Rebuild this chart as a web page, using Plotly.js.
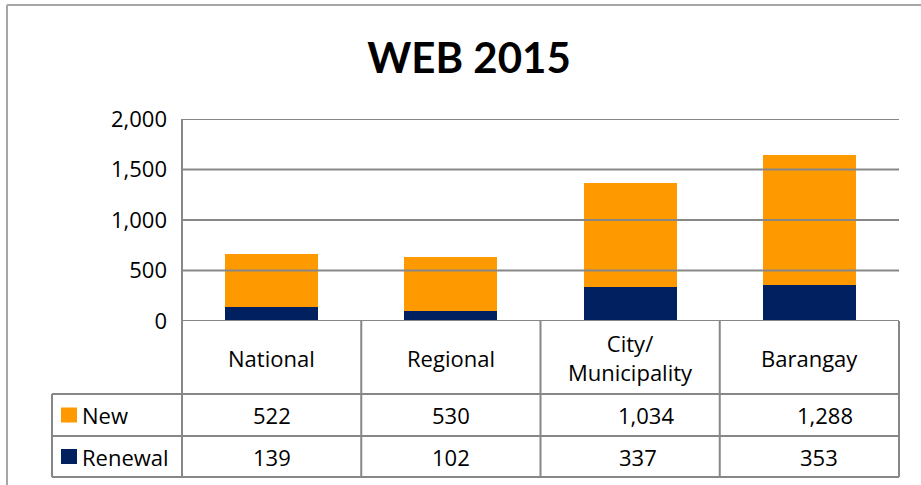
<!DOCTYPE html>
<html>
<head>
<meta charset="utf-8">
<script src="https://cdn.plot.ly/plotly-3.0.1.min.js"></script>
<style>html,body{margin:0;padding:0;background:#fff;}#chart{width:921px;height:485px;}</style>
</head>
<body>
<div id="chart"></div>
<script>
// ---- data ----
const chartTitle = "WEB 2015";
const categories = ["National", "Regional", "City/ Municipality", "Barangay"];
const categoryLabels = ["National", "Regional", "City/<br>Municipality", "Barangay"];
const newValues = [522, 530, 1034, 1288];
const renewalValues = [139, 102, 337, 353];
const seriesNames = ["New", "Renewal"];
const yTickVals = [0, 500, 1000, 1500, 2000];
const yTickText = ["0", "500", "1,000", "1,500", "2,000"];

// ---- style ----
const W = 921, H = 485;
const M = {l: 182, r: 22, t: 119, b: 164};
const orange = "#ff9900", navy = "#002060";
const grid = "#878787";
const titleFont = "Lato, 'Open Sans', sans-serif";
const font = "'Open Sans', Lato, sans-serif";
const fs = 22;
const pw = W - M.l - M.r, ph = H - M.t - M.b;
const px = x => (x - M.l) / pw;          // pixel -> paper x
const py = y => (H - M.b - y) / ph;      // pixel -> paper y

function fmt(v){ return v.toLocaleString("en-US"); }

const traces = [
  {type: "bar", name: seriesNames[1], x: categories, y: renewalValues, marker: {color: navy}, width: 0.52, hoverinfo: "skip"},
  {type: "bar", name: seriesNames[0], x: categories, y: newValues, marker: {color: orange}, width: 0.52, hoverinfo: "skip"}
];

const shapes = [];
const annotations = [];
const line = {color: grid, width: 2};

// gridlines above bars
yTickVals.forEach(v => shapes.push({type: "line", xref: "paper", yref: "y", x0: 0, x1: 1, y0: v, y1: v, line, layer: "above"}));
// left axis line through table
shapes.push({type: "line", xref: "paper", yref: "paper", x0: 0, x1: 0, y0: py(119), y1: py(477), line, layer: "above"});
// right table border
shapes.push({type: "line", xref: "paper", yref: "paper", x0: 1, x1: 1, y0: 0, y1: py(477), line, layer: "above"});
// category separators
for (let i = 1; i < categories.length; i++) {
  shapes.push({type: "line", xref: "x", yref: "paper", x0: i - 0.5, x1: i - 0.5, y0: 0, y1: py(477), line, layer: "above"});
}
// table horizontal lines
[394, 436, 477].forEach(y => shapes.push({type: "line", xref: "paper", yref: "paper", x0: px(52), x1: 1, y0: py(y), y1: py(y), line, layer: "above"}));
// legend column left border
shapes.push({type: "line", xref: "paper", yref: "paper", x0: px(52), x1: px(52), y0: py(394), y1: py(477), line, layer: "above"});
// outer frame
const frame = {color: "#a6a6a6", width: 2};
shapes.push({type: "line", xref: "paper", yref: "paper", x0: px(7), x1: px(7), y0: py(5), y1: py(490), line: frame, layer: "above"});
shapes.push({type: "line", xref: "paper", yref: "paper", x0: px(7), x1: px(925), y0: py(5), y1: py(5), line: frame, layer: "above"});

// legend keys
const rowCenters = [415, 456.5];
const seriesColors = [orange, navy];
seriesNames.forEach((n, i) => {
  const c = rowCenters[i];
  shapes.push({type: "rect", xref: "paper", yref: "paper", x0: px(61), x1: px(77), y0: py(c - 7.5), y1: py(c + 7.5), fillcolor: seriesColors[i], line: {width: 0}, layer: "above"});
  annotations.push({xref: "paper", yref: "paper", x: px(80), y: py(c), xanchor: "left", yanchor: "middle", text: n, showarrow: false, font: {family: font, size: fs, color: "#000"}});
});

// category labels
categories.forEach((c, i) => {
  annotations.push({xref: "x", yref: "paper", x: c, y: py(357.5), xanchor: "center", yanchor: "middle", text: categoryLabels[i], showarrow: false, font: {family: font, size: fs, color: "#000"}});
});
// table values
const newShift = [0, 0, 16, 16], renShift = [0, 0, 8, 10];
[newValues, renewalValues].forEach((vals, r) => {
  vals.forEach((v, i) => {
    annotations.push({xref: "x", yref: "paper", x: categories[i], y: py(rowCenters[r]), xshift: (r === 0 ? newShift : renShift)[i], xanchor: "center", yanchor: "middle", text: fmt(v), showarrow: false, font: {family: font, size: fs, color: "#000"}});
  });
});

const layout = {
  width: W, height: H,
  margin: M,
  paper_bgcolor: "#fff", plot_bgcolor: "#fff",
  barmode: "stack", showlegend: false,
  title: {text: "<b>" + chartTitle + "</b>", x: 469 / W, xanchor: "center", y: 1 - 58 / H, yanchor: "middle", font: {family: titleFont, size: 42, color: "#000"}},
  xaxis: {type: "category", showticklabels: false, showgrid: false, zeroline: false, showline: false, ticks: "", range: [-0.5, 3.5], fixedrange: true},
  yaxis: {range: [0, 2000], tickvals: yTickVals, ticktext: yTickText, showgrid: false, zeroline: false, showline: false, ticks: "", ticklabelstandoff: 14, tickfont: {family: font, size: 22, color: "#000"}, fixedrange: true},
  shapes, annotations
};

Plotly.newPlot("chart", traces, layout, {displayModeBar: false, staticPlot: true});
</script>
</body>
</html>
